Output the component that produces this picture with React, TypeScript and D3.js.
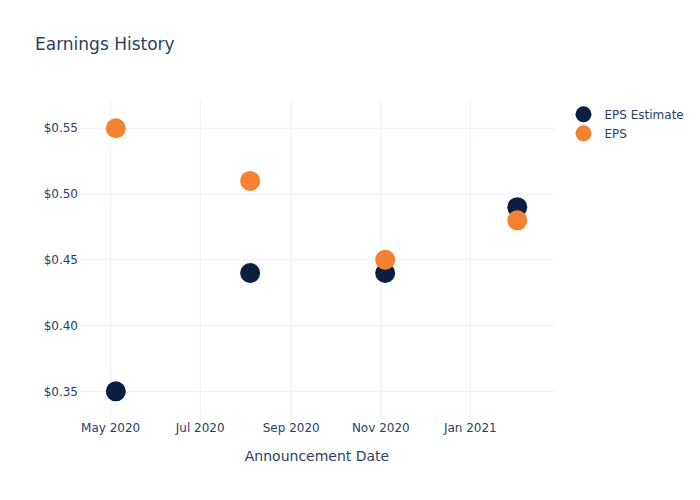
import React from "react";
import * as d3 from "d3";

const dates: string[] = ["2020-05-04T12:00:00Z", "2020-08-04T00:00:00Z", "2020-11-04T00:00:00Z", "2021-02-02T00:00:00Z"];
const epsEstimate: number[] = [0.35, 0.44, 0.44, 0.49];
const eps: number[] = [0.55, 0.51, 0.45, 0.48];
const yTicks: number[] = [0.35, 0.4, 0.45, 0.5, 0.55];
const xTickDates: string[] = ["2020-05-01", "2020-07-01", "2020-09-01", "2020-11-01", "2021-01-01"];
const seriesNames: string[] = ["EPS Estimate", "EPS"];

const W = 700, H = 500;
const M = { l: 80, r: 146, t: 100, b: 80 };
const FONT = "'DejaVu Sans', Verdana, sans-serif";
const TXT = "#2a3f5f";
const GRID = "#ebf0f8";
const NAVY = "#0c1f3f";
const ORANGE = "#f58233";

export default function App() {
  const day = 86400000;
  const x0 = Date.UTC(2020, 4, 1) - 20.9 * day;
  const x1 = Date.UTC(2021, 0, 1) + 57.0 * day;
  const x = d3.scaleUtc().domain([new Date(x0), new Date(x1)]).range([M.l, W - M.r]);
  const y = d3.scaleLinear().domain([0.3282, 0.5715]).range([H - M.b, M.t]);
  const fmtX = d3.utcFormat("%b %Y");
  const fmtY = (v: number) => "$" + d3.format(".2f")(v);
  const pts = dates.map((d) => new Date(d));
  const colors = [NAVY, ORANGE];
  const series = [epsEstimate, eps];

  return (
    <svg width={W} height={H} style={{ position: "absolute", left: 0, top: 0, background: "#fff" }} fontFamily={FONT}>
      <rect x={0} y={0} width={W} height={H} fill="#fff" />
      {xTickDates.map((t) => {
        const xv = x(new Date(t + "T00:00:00Z"));
        return <line key={"gx" + t} x1={xv} x2={xv} y1={M.t} y2={H - M.b} stroke={GRID} strokeWidth={1} />;
      })}
      {yTicks.map((t) => (
        <line key={"gy" + t} x1={M.l} x2={W - M.r} y1={y(t)} y2={y(t)} stroke={GRID} strokeWidth={1} />
      ))}
      {yTicks.map((t) => (
        <text key={"ty" + t} x={M.l - 2} y={y(t)} dy="0.35em" textAnchor="end" fontSize={12} fill={TXT}>
          {fmtY(t)}
        </text>
      ))}
      {xTickDates.map((t) => (
        <text key={"tx" + t} x={x(new Date(t + "T00:00:00Z"))} y={H - M.b + 12} textAnchor="middle" fontSize={12} fill={TXT}>
          {fmtX(new Date(t + "T00:00:00Z"))}
        </text>
      ))}
      {series.map((s, si) =>
        s.map((v, i) => (
          <circle key={"p" + si + "-" + i} cx={x(pts[i])} cy={y(v)} r={10} fill={colors[si]} />
        ))
      )}
      <text x={35} y={50} fontSize={17} fill={TXT}>Earnings History</text>
      <text x={(M.l + W - M.r) / 2} y={461} textAnchor="middle" fontSize={14} fill={TXT}>Announcement Date</text>
      {seriesNames.map((n, i) => (
        <g key={"lg" + n} transform={`translate(583.5, ${114.3 + i * 19})`}>
          <circle cx={0} cy={0} r={8} fill={colors[i]} />
          <text x={21} y={0} dy="0.35em" fontSize={12} fill={TXT}>{n}</text>
        </g>
      ))}
    </svg>
  );
}
